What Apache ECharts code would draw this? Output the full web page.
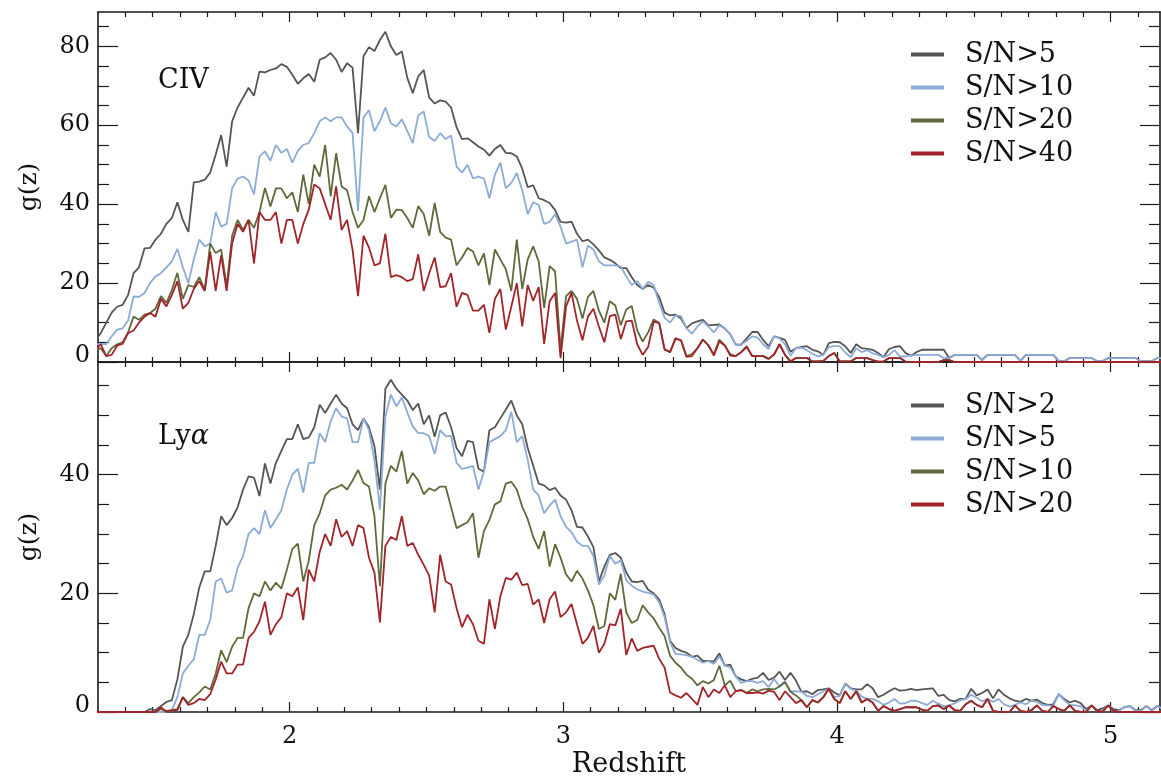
<!DOCTYPE html>
<html>
<head>
<meta charset="utf-8">
<script src="https://cdn.jsdelivr.net/npm/echarts@6/dist/echarts.min.js"></script>
<style>
html,body{margin:0;padding:0;background:#fff;}
#chart{width:1161px;height:779px;}
</style>
</head>
<body>
<div id="chart"></div>
<script>
// Redshift grid (x values)
const Z = [
1.29,1.31,1.33,1.35,1.37,1.39,1.41,1.43,1.45,1.47,
1.49,1.51,1.53,1.55,1.57,1.59,1.61,1.63,1.65,1.67,
1.69,1.71,1.73,1.75,1.77,1.79,1.81,1.83,1.85,1.87,
1.89,1.91,1.93,1.95,1.97,1.99,2.01,2.03,2.05,2.07,
2.09,2.11,2.13,2.15,2.17,2.19,2.21,2.23,2.25,2.27,
2.29,2.31,2.33,2.35,2.37,2.39,2.41,2.43,2.45,2.47,
2.49,2.51,2.53,2.55,2.57,2.59,2.61,2.63,2.65,2.67,
2.69,2.71,2.73,2.75,2.77,2.79,2.81,2.83,2.85,2.87,
2.89,2.91,2.93,2.95,2.97,2.99,3.01,3.03,3.05,3.07,
3.09,3.11,3.13,3.15,3.17,3.19,3.21,3.23,3.25,3.27,
3.29,3.31,3.33,3.35,3.37,3.39,3.41,3.43,3.45,3.47,
3.49,3.51,3.53,3.55,3.57,3.59,3.61,3.63,3.65,3.67,
3.69,3.71,3.73,3.75,3.77,3.79,3.81,3.83,3.85,3.87,
3.89,3.91,3.93,3.95,3.97,3.99,4.01,4.03,4.05,4.07,
4.09,4.11,4.13,4.15,4.17,4.19,4.21,4.23,4.25,4.27,
4.29,4.31,4.33,4.35,4.37,4.39,4.41,4.43,4.45,4.47,
4.49,4.51,4.53,4.55,4.57,4.59,4.61,4.63,4.65,4.67,
4.69,4.71,4.73,4.75,4.77,4.79,4.81,4.83,4.85,4.87,
4.89,4.91,4.93,4.95,4.97,4.99,5.01,5.03,5.05,5.07,
5.09,5.11,5.13,5.15,5.17,5.19
];

// CIV panel, g(z)
const CIV_SN5 = [
5.5,7.3,9.9,12.5,14,14.5,17,22.5,24,28.8,
28.9,31,32.5,35,36.5,40.5,36,33,45.5,45.7,
46.2,48,52.5,57.5,49.5,61,64.5,67,69.5,67.5,
73.6,73.4,74,74.4,75.5,74.8,72.8,70.5,71.9,73,
71,76.6,77.2,78.3,76.6,73.5,75.7,74.6,58,77.5,
79.8,78.8,81.6,83.7,80,77.8,78.7,72,68.1,72.4,
74,67,65.5,66.3,66,64.5,59.5,56.5,56.7,55.7,
54.6,53.8,52.3,54,55,53,52.9,52.1,49,44.3,
44.8,41.5,41,40.3,38.5,35.5,35.3,35.6,32.5,30.6,
31,29.8,28.3,26.5,25.9,25,23.8,23.8,21.5,19.5,
18.5,19.5,18.8,16.5,12.5,11.8,12,11,8.6,9.8,
10.3,10.7,9.3,9.4,9.5,8.5,7,4.4,4.4,6,
7.6,7.6,5.6,4,6.5,6.1,5.6,2.6,3.5,3.8,
4,3.1,2.7,1.8,4.8,5.1,5,4,2.3,4.5,
3.5,3.3,3.1,2.3,1.2,3.3,3.8,4,2.3,1.6,
2.5,3.1,3.1,3.1,3.1,3.1,1,1.8,1.8,1.8,
1.8,1.8,0.5,1.8,1.8,1.8,1.8,1.8,1.8,0.3,
1.8,1.8,1.8,1.8,1.8,1.8,0.2,0.2,1,1,
1,1,1,0.2,0.2,1,1,1,1,1,
1,0.2,0.2,0.2,1,1
];
const CIV_SN10 = [
4.5,4.6,4.5,6.5,8.2,8.5,10.5,16.6,16.5,17.5,
20,21.7,22.5,24,25.5,28.7,24,20,26,31,
29.3,30,38,34.3,35,44,46.5,47,46,42.5,
52.1,53.4,51,55,53,54,50.5,53.5,55,55.5,
58,61,62,61,62,62,59.7,58,38.2,62,
63.8,58.5,61,64.5,60.5,59.7,61.5,58.5,55.5,62.5,
63.5,57,56,58,56.5,57.4,49.5,48,50,46.5,
47,46.5,41.5,47.5,50.5,44,45.4,47.9,43.5,37.5,
40.5,39.8,35,35.5,37.5,34.3,30,30.5,31,24,
29.5,28.5,25.5,24.5,24.5,24.5,24.2,21.7,19.5,20.5,
18.5,20.3,19.5,15,11.2,10,11.8,11.6,8.5,7.2,
9,10.3,9,7.5,9.3,8.5,7,4.4,4.4,5.4,
6.5,6.2,4.5,3.3,6.5,6,4.5,1.6,3.5,3.6,
3,2.1,1.4,1.8,3.8,4,4,2.4,1.2,3.5,
2.5,3,2.2,1.8,1.2,1.8,3,1.4,1.4,1.6,
1.8,1.8,1.8,1.8,1.8,1,1,1.8,1.8,1.8,
1.8,1.8,0.5,1.8,1.8,1.8,1.8,1.8,1.8,0.3,
1.8,1.8,1.8,1.8,1.8,1.8,0.2,0.2,1,1,
1,1,1,0.2,0.2,1,1,1,1,1,
1,0.2,0.2,0.2,1,1
];
const CIV_SN20 = [
3,3.5,1.5,3.5,4.5,5,7.5,11.5,10.7,12,
12.4,13.5,16.7,15,18.3,22.6,16,19.5,19,21.5,
18.3,30,27.6,28.5,19.2,32,36,33.5,36,34,
38,44.1,39.4,44,44,41.5,43,38,47.5,40,
50,47,55,42,52.9,44.5,43.5,38,34,36,
42,38,41.5,44.9,36.5,38.6,38.5,36.5,34,39.5,
37.5,32,40.3,33,31.5,31,24.5,26.5,28.9,28,
24.5,27.5,19.5,28.5,26,23.5,18,31,18.5,26,
29.3,25.5,13.7,24.3,23,3,16.7,18,16,11,
16.5,18,13,10,15.4,14.3,9.3,13.3,14.2,8,
5.2,7.5,10.8,9.9,3.2,2.5,6,5.5,1.5,2,
3.5,5.7,4.2,2,5.7,4.2,2,1.5,2.5,4,
1.5,1.5,1.5,0.8,1.9,4.5,1.8,0.2,1,1,
1,0.2,0.2,0.3,1.5,2.3,0.2,0.2,0.2,1,
1,1,0.5,0.1,0.1,1,1,1,0.1,0,
0,0,0,0,0,0.5,0.5,0,0,0,
0,0,0,0,0,0,0,0,0,0,
0,0,0,0,0,0,0,0,0,0,
0,0,0,0,0,0,0,0,0,0,
0,0,0,0,0,0
];
const CIV_SN40 = [
3,4.5,1.5,1.8,4.2,4.6,7.3,8,10,11.5,
12.4,11.5,16,14.1,17,20.5,13.5,15,18.5,20.5,
18,28,18,27,18,30,35,33,36,25,
38,36,36,38,30,36,36,30,35,38.6,
45,44,40,36,44.5,33.5,36,28.5,16.7,32,
29,24.5,25,32.5,21.5,22,21.5,20.5,21,27.3,
18,22.5,26.5,19,19.2,22.5,14,17.5,17,13,
13,14.5,7.4,16,18.5,8.2,14,20,9,19.5,
15.5,19,4.6,15.4,17.5,1,14.1,17.5,10.5,5.5,
11.5,13.5,9,5,11.6,12,5.8,10.3,10.5,4.5,
1.8,3.8,10.2,9.9,3.2,2.5,6,5.5,1.3,1.5,
3.5,5.7,4.2,1.6,5.2,4.2,1.6,1.5,2.5,3.8,
1.5,1.5,1.5,0.8,1.9,4.5,1.8,0.1,1,1,
1,0.1,0.1,0.3,1.5,2.3,0.1,0.1,0.1,1,
1,1,0.5,0.1,0.1,1,1,1,0.1,0,
0,0,0,0,0,0.5,0.5,0,0,0,
0,0,0,0,0,0,0,0,0,0,
0,0,0,0,0,0,0,0,0,0,
0,0,0,0,0,0,0,0,0,0,
0,0,0,0,0,0
];

// Ly-alpha panel, g(z)
const LYA_SN2 = [
0,0,0,0,0,0,0,0,0,0,
0.5,0.3,1,1.7,2,5.5,11,13,16.5,21,
23.7,23.7,28,33,31.5,32.7,34.5,37.5,39.7,39.5,
36.4,41.9,38.5,42,44,46,46,48.5,46,46.3,
48,51.8,50.4,52,53.5,52,51.2,48.5,47.5,49.5,
48,44.8,37.5,54.5,56,54.5,53.5,52.5,50.9,52,
48.5,50,46.4,50,50.5,48,44.5,43.1,45.7,45.5,
41,40.5,47.5,48,49.5,51,52.5,50,48.5,44.5,
41.5,38.5,38.2,37.4,37.8,36.5,35.8,34,31.2,31.1,
29.6,27.8,22,24.5,26.5,26.8,26,23.5,22,21.9,
22.1,20.6,20,19,16.5,12,10.8,10.3,10,9.3,
9.5,8.6,8.6,8.5,9.9,7.8,8,6,5.5,5.2,
5.6,5.8,6.6,5.4,5.8,6.8,5.4,6.6,5.3,3.4,
3.5,3,3.7,3.8,4,3.3,2.8,4.8,4,3.8,
3.8,4.7,4,2.5,2.9,3.5,4,3.6,3.7,3.9,
3.7,3.8,3.9,4,2.7,2.9,2,1.8,2.2,2.2,
3.9,2.8,3.2,3.8,2.3,3.8,2.9,2.3,1.9,1.7,
2.2,1.9,2.1,1.5,1.2,1.3,3,2.2,1.6,1.9,
1.5,0.5,1.1,0.3,0.6,1.1,0.5,0.3,0.8,1,
0.3,0.3,1,0.3,1,0.8
];
const LYA_SN5 = [
0,0,0,0,0,0,0,0,0,0,
0,0,0,0,0.3,2.5,6.5,7.8,8.9,13,
13,15.5,22,22.5,20.1,20.5,24.3,26.3,30,31,
30,34,31,32.5,34,37.5,40,41,37,42,
42,47,45.5,49,51.2,49.8,49.5,45.5,45.5,49.5,
47.5,42.5,34.1,49.8,53.5,51.5,53,50.5,48.1,47,
47,46.5,43.5,47.5,46.5,46.5,42,41,41.2,41.5,
37.5,40.5,45.5,46,46.5,47.5,50.6,45.5,46.5,42.5,
37.5,36.5,33.5,34.8,35.8,33,31.2,30.3,28.7,28,
28,26.3,21.5,23,26.3,25,25.6,22.2,21.3,20.7,
20.3,20.1,19.8,18.5,16,11.8,9.8,9.7,9.6,9.3,
8.8,8.3,8.6,8.1,9.4,7.8,7.5,6,4.9,5.2,
5.2,4.9,5.2,4.2,5.6,4.3,5.2,3.5,3.5,3.4,
2.7,2.5,3,3.5,3.9,2.5,2.7,4.8,3.9,3.6,
2.6,2.2,2.2,1.8,1.2,1.6,2.2,1.4,1.5,1.9,
1.9,1.5,1.2,1.9,1.4,1,1.1,1.5,2,2.2,
2.9,2.4,1.8,2.2,1.7,2.2,1.3,0.9,1.2,1.6,
1.3,1.9,1.7,1.2,1.1,1,3,2,1.2,1.1,
1,0.2,1.1,0.2,0.2,1.1,0.2,0.2,0.8,1,
0.2,0.2,1,0.2,1,0.5
];
const LYA_SN10 = [
0,0,0,0,0,0,0,0,0,0,
0,0,0.5,0.2,0.3,0.5,2.5,1.5,2.5,3.3,
4.3,3.8,6.5,10.4,8.4,11,12.5,12.5,17.5,20,
19.5,22,20.5,21.8,20.8,24,27.5,28.4,22,25.5,
31.5,33.5,36.5,37.5,37.8,38.3,37.5,39,40.8,38.6,
38,33,21.2,38.5,41.5,40.5,44,38.5,40.3,39,
36.7,37.7,37.3,38,38,34.5,31,31.5,32,33.5,
26,30.5,32.4,35,35.5,38.5,38.8,37.5,34.6,32.5,
29.5,27.5,30.5,24.5,28.3,26,23.2,22,23.8,22.5,
20.5,18,14,14.5,20,18.9,23.3,16.8,15,15.5,
18,16.8,15.8,14.2,12.8,9.5,8.3,7.5,6.3,5.6,
4.5,5.2,4.8,5.4,7.8,4.5,5.3,3.5,3.7,3.2,
3.8,3.5,3.8,3.9,3.8,4.3,5,3.4,2.8,2,
0.8,2,1.6,2.5,3.9,2.2,1.5,3.5,2.2,3.5,
1.6,2.2,1.6,0.2,1,0.5,0.2,0.5,0.8,0.8,
0.8,0.4,0.2,1,1.1,0.5,1.1,0.3,0.2,1.3,
1.9,1.2,0.8,2.2,0.2,0,0,0,1.1,0.2,
0,0.3,1.1,0.2,0,1,0.5,0.2,1.1,0.2,
0,0,1.1,0.2,0,1.1,0.2,0,0,0,
0,0,0,0,0,0
];
const LYA_SN20 = [
0,0,0,0,0,0,0,0,0,0,
0,0,0.8,0,0.3,0.3,2.5,1.2,1.5,2.2,
2,3,5.5,8.5,6.5,6.5,8,8,12.5,13.5,
15.3,18.6,13,14.8,16,20,19.5,21,15.5,24,
22,27,30,28,32.5,29.5,30.5,28,31.5,31,
26,23.5,15.1,28,29.5,29,33,28,28.5,26.5,
24.8,23,16.8,26.5,22,21.5,17.5,14.3,16.4,14.8,
12,11.5,19,14,19.5,22.6,22.3,23.5,21.4,21.6,
18.1,19,15,19,20.3,16,16.8,18.2,14.8,11.5,
12.5,14.5,10,11.5,14.8,14.6,17.4,9.6,12.4,10.3,
10.8,11,11.2,9,7.5,3.3,2.8,2.4,3.2,2.2,
1.2,4.2,2.5,3.8,3.2,4.5,2.5,3.5,3.7,3.2,
3.2,3.3,3.1,3.6,3.4,2,3.5,2.5,1.5,2,
0.8,2,1.6,2.5,3.9,2.2,1.5,3.5,2.2,3.5,
1.6,2.2,1.6,0.2,1,0.5,0.2,0.5,0.8,0.8,
0.8,0.4,0.2,1,1.1,0.5,1.1,0.3,0.2,1.3,
1.9,1.2,0.8,2.2,0.2,0,0,0,1.1,0.2,
0,0.3,1.1,0.2,0,1,0.5,0.2,1.1,0.2,
0,0,1.1,0.2,0,1.1,0.2,0,0,0,
0,0,0,0,0,0
];

const CIV_LABELS = ['S/N>5', 'S/N>10', 'S/N>20', 'S/N>40'];
const LYA_LABELS = ['S/N>2', 'S/N>5', 'S/N>10', 'S/N>20'];
const X_MAJOR = [2, 3, 4, 5];
const X_MINOR = [1.4,1.5,1.6,1.7,1.8,1.9,2.1,2.2,2.3,2.4,2.5,2.6,2.7,2.8,2.9,3.1,3.2,3.3,3.4,3.5,3.6,3.7,3.8,3.9,4.1,4.2,4.3,4.4,4.5,4.6,4.7,4.8,4.9,5.1];
const Y_TOP_MAJOR = [0, 20, 40, 60, 80];
const Y_TOP_MINOR = [5,10,15,25,30,35,45,50,55,65,70,75,85];
const Y_BOT_MAJOR = [0, 20, 40];
const Y_BOT_MINOR = [5,10,15,25,30,35,45,50,55];

const COLORS = ['#555555', '#8eaad6', '#5e6a3a', '#a2242b'];
const FONT = '"DejaVu Serif", "Liberation Serif", serif';
const INK = '#111111';

const chart = echarts.init(document.getElementById('chart'), null, {renderer: 'canvas'});

const GRIDS = [
  {left: 98, width: 1062, top: 12, height: 350},
  {left: 98, width: 1062, top: 362, height: 351}
];
const XR = {min: 1.3, max: 5.18};
const YR = [{min: 0, max: 88.7}, {min: 0, max: 59}];
const YMAJ = [Y_TOP_MAJOR, Y_BOT_MAJOR];
const YMIN = [Y_TOP_MINOR, Y_BOT_MINOR];

const lineStyleAxis = {color: '#1a1a1a', width: 1.6};
const xAxes = [], yAxes = [];
for (let g = 0; g < 2; g++) {
  const mk = (pos, vals, len, showLine, labels) => ({
    type: 'value', gridIndex: g, position: pos, min: XR.min, max: XR.max,
    axisLine: {show: showLine, onZero: false, lineStyle: lineStyleAxis},
    axisTick: {show: true, inside: true, length: len, customValues: vals, lineStyle: {color: '#1a1a1a', width: 1.2}},
    axisLabel: labels ? {show: true, customValues: vals, margin: 13, fontFamily: FONT, fontSize: 24, color: INK} : {show: false, customValues: vals},
    splitLine: {show: false}
  });
  const bMaj = mk('bottom', X_MAJOR, 10, true, g === 1);
  if (g === 1) {
    bMaj.name = 'Redshift';
    bMaj.nameLocation = 'middle';
    bMaj.nameGap = 39;
    bMaj.nameTextStyle = {fontFamily: FONT, fontSize: 27, color: INK};
  }
  xAxes.push(bMaj, mk('bottom', X_MINOR, 5, false, false), mk('top', X_MAJOR, 10, true, false), mk('top', X_MINOR, 5, false, false));

  const mky = (pos, vals, len, showLine, labels) => ({
    type: 'value', gridIndex: g, position: pos, min: YR[g].min, max: YR[g].max,
    axisLine: {show: showLine, onZero: false, lineStyle: lineStyleAxis},
    axisTick: {show: true, inside: true, length: len, customValues: vals, lineStyle: {color: '#1a1a1a', width: 1.2}},
    axisLabel: labels ? {
      show: true, customValues: vals, margin: 8, fontFamily: FONT, fontSize: 24, color: INK,
      formatter: v => v === 0 ? '{z|0}' : String(v),
      rich: {z: {fontFamily: FONT, fontSize: 24, color: INK, padding: [0, 0, 13, 0]}}
    } : {show: false, customValues: vals},
    splitLine: {show: false}
  });
  const lMaj = mky('left', YMAJ[g], 20, true, true);
  lMaj.name = 'g(z)';
  lMaj.nameLocation = 'middle';
  lMaj.nameGap = 56;
  lMaj.nameTextStyle = {fontFamily: FONT, fontSize: 25, color: INK};
  yAxes.push(lMaj, mky('left', YMIN[g], 11, false, false), mky('right', YMAJ[g], 20, true, false), mky('right', YMIN[g], 11, false, false));
}

const PANELS = [
  {key: 'CIV', labels: CIV_LABELS, data: [CIV_SN5, CIV_SN10, CIV_SN20, CIV_SN40]},
  {key: 'Lya', labels: LYA_LABELS, data: [LYA_SN2, LYA_SN5, LYA_SN10, LYA_SN20]}
];
const NAME_TEXT = {};
const series = [];
const legends = [];
PANELS.forEach((p, g) => {
  const names = [];
  p.data.forEach((arr, k) => {
    const nm = p.key + ' ' + p.labels[k];
    NAME_TEXT[nm] = p.labels[k];
    names.push(nm);
    series.push({
      type: 'line', name: nm, xAxisIndex: g * 4, yAxisIndex: g * 4,
      data: Z.map((z, i) => [z, arr[i]]),
      showSymbol: false, symbol: 'none', animation: false,
      lineStyle: {color: COLORS[k], width: 1.8},
      itemStyle: {color: COLORS[k]},
      clip: true
    });
  });
  legends.push({
    data: names, orient: 'vertical', left: 911, top: g === 0 ? 41 : 392, padding: 0,
    icon: 'rect', itemWidth: 33, itemHeight: 4, itemGap: 6,
    selectedMode: false,
    formatter: n => NAME_TEXT[n],
    textStyle: {fontFamily: FONT, fontSize: 27, color: INK, lineHeight: 27, padding: [0, 0, 0, 16]}
  });
});

chart.setOption({
  backgroundColor: '#ffffff',
  animation: false,
  grid: GRIDS,
  xAxis: xAxes,
  yAxis: yAxes,
  legend: legends,
  series: series,
  graphic: [
    {type: 'text', left: 158, top: 67, style: {text: 'CIV', font: '27px ' + FONT, fill: INK}},
    {type: 'text', left: 158, top: 423, style: {
      text: 'Ly{a|α}', font: '27px ' + FONT, fill: INK,
      rich: {a: {fontFamily: FONT, fontSize: 27, fontStyle: 'italic', fill: INK, color: INK}}
    }}
  ]
});
</script>
</body>
</html>
